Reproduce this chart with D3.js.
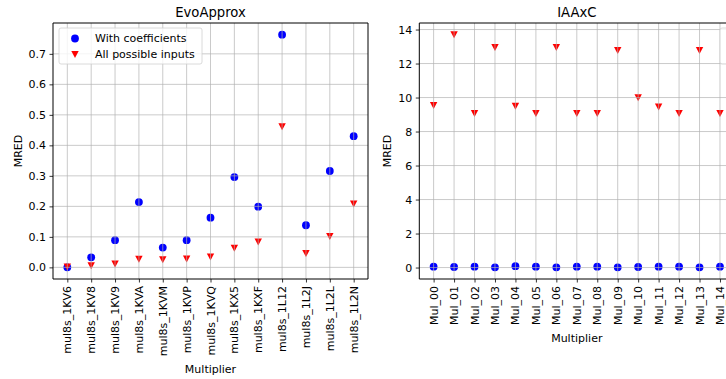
<!DOCTYPE html>
<html>
<head>
<meta charset="utf-8">
<script src="https://cdn.jsdelivr.net/npm/d3@7"></script>
<style>
  html, body { margin: 0; padding: 0; background: #fff; }
  svg { display: block; }
  text { font-family: "DejaVu Sans", sans-serif; fill: #000; }
</style>
</head>
<body>
<svg id="chart" width="726" height="379"></svg>
<script>
// ---------- Data ----------
const evoCategories = ["mul8s_1KV6","mul8s_1KV8","mul8s_1KV9","mul8s_1KVA","mul8s_1KVM","mul8s_1KVP","mul8s_1KVQ","mul8s_1KX5","mul8s_1KXF","mul8s_1L12","mul8s_1L2J","mul8s_1L2L","mul8s_1L2N"];
const evoWithCoeff   = [0.000, 0.033, 0.089, 0.214, 0.065, 0.089, 0.163, 0.296, 0.199, 0.763, 0.138, 0.316, 0.430];
const evoAllInputs   = [0.002, 0.006, 0.012, 0.027, 0.026, 0.028, 0.035, 0.063, 0.084, 0.462, 0.046, 0.102, 0.208];
const evoYTicks      = [0.0, 0.1, 0.2, 0.3, 0.4, 0.5, 0.6, 0.7];

const iaaCategories = ["Mul_00","Mul_01","Mul_02","Mul_03","Mul_04","Mul_05","Mul_06","Mul_07","Mul_08","Mul_09","Mul_10","Mul_11","Mul_12","Mul_13","Mul_14"];
const iaaWithCoeff  = [0.05, 0.03, 0.05, 0.01, 0.08, 0.05, 0.01, 0.05, 0.05, 0.01, 0.03, 0.05, 0.05, 0.01, 0.05];
const iaaAllInputs  = [9.55, 13.70, 9.07, 12.96, 9.50, 9.07, 12.96, 9.07, 9.07, 12.78, 10.00, 9.45, 9.07, 12.78, 9.07];
const iaaYTicks     = [0, 2, 4, 6, 8, 10, 12, 14];

const seriesNames = ["With coefficients", "All possible inputs"];
const seriesColors = ["#0000ff", "#ff0000"];

// ---------- Drawing ----------
const svg = d3.select("#chart");
const triPath = "M-3.7,-3.3L3.7,-3.3L0,3.7Z";
const FS = 11, TFS = 13.2;

function drawPanel(cfg) {
  const { left, right, top, bottom, title, cats, s1, s2, yTicks, yFmt, legendX, legendText } = cfg;
  const n = cats.length;
  const pad = (n - 1) * 0.05;
  const x = d3.scaleLinear().domain([-pad, n - 1 + pad]).range([left, right]);
  const all = s1.concat(s2);
  const mn = d3.min(all), mx = d3.max(all);
  const ypad = (mx - mn) * 0.05;
  const y = d3.scaleLinear().domain([mn - ypad, mx + ypad]).range([bottom, top]);

  const g = svg.append("g");

  // markers (drawn first, grid over them like matplotlib)
  g.append("g").selectAll("circle").data(s1).join("circle")
    .attr("cx", (d, i) => x(i)).attr("cy", d => y(d)).attr("r", 3.9)
    .attr("fill", seriesColors[0]);
  g.append("g").selectAll("path").data(s2).join("path")
    .attr("d", triPath)
    .attr("transform", (d, i) => `translate(${x(i)},${y(d)})`)
    .attr("fill", seriesColors[1]);

  // grid
  const grid = g.append("g").attr("stroke", "#b0b0b0").attr("stroke-width", 0.8).attr("stroke-opacity", 0.85);
  grid.selectAll("line.v").data(cats).join("line").attr("class", "v")
    .attr("x1", (d, i) => x(i)).attr("x2", (d, i) => x(i)).attr("y1", top).attr("y2", bottom);
  grid.selectAll("line.h").data(yTicks).join("line").attr("class", "h")
    .attr("x1", left).attr("x2", right).attr("y1", d => y(d)).attr("y2", d => y(d));

  // axes
  const yAxis = d3.axisLeft(y).tickValues(yTicks).tickFormat(yFmt).tickSize(3.5).tickPadding(3.5);
  const ya = g.append("g").attr("transform", `translate(${left},0)`).call(yAxis);
  ya.select(".domain").remove();
  ya.selectAll("text").attr("font-size", FS).attr("font-family", "DejaVu Sans");
  ya.selectAll("line").attr("stroke", "#000").attr("stroke-width", 0.8);

  const xAxis = d3.axisBottom(x).tickValues(d3.range(n)).tickFormat(i => cats[i]).tickSize(3.5).tickPadding(3.5);
  const xa = g.append("g").attr("transform", `translate(0,${bottom})`).call(xAxis);
  xa.select(".domain").remove();
  xa.selectAll("line").attr("stroke", "#000").attr("stroke-width", 0.8);
  xa.selectAll("text")
    .attr("font-size", FS).attr("font-family", "DejaVu Sans")
    .attr("text-anchor", "end")
    .attr("dy", null)
    .attr("dominant-baseline", "central")
    .attr("transform", "rotate(-90)")
    .attr("x", -7).attr("y", 0);

  // spines
  const sp = g.append("g").attr("stroke", "#000").attr("stroke-width", 1).attr("fill", "none");
  sp.append("line").attr("x1", left).attr("x2", left).attr("y1", top).attr("y2", bottom);
  sp.append("line").attr("x1", left).attr("x2", right).attr("y1", bottom).attr("y2", bottom);
  sp.append("line").attr("x1", left).attr("x2", right).attr("y1", top).attr("y2", top);
  sp.append("line").attr("x1", right).attr("x2", right).attr("y1", top).attr("y2", bottom);

  // title
  g.append("text").attr("x", (left + right) / 2).attr("y", 17)
    .attr("text-anchor", "middle").attr("font-size", TFS).text(title);

  // x label
  const xb = xa.node().getBBox();
  g.append("text").attr("x", (left + right) / 2).attr("y", bottom + xb.height + 16.5)
    .attr("text-anchor", "middle").attr("font-size", FS).text("Multiplier");

  // y label
  const yb = ya.node().getBBox();
  const lx = left + yb.x - 7;
  g.append("text").attr("transform", `translate(${lx},${(top + bottom) / 2}) rotate(-90)`)
    .attr("text-anchor", "middle").attr("font-size", FS).text("MRED");

  // legend
  const lg = g.append("g").attr("transform", `translate(${legendX},${top + 5})`);
  lg.append("rect").attr("x", 0).attr("y", 0).attr("width", 143).attr("height", 36)
    .attr("rx", 2).attr("fill", "#fff").attr("fill-opacity", 0.8)
    .attr("stroke", "#d0d0d0").attr("stroke-width", 0.8);
  if (legendText) {
    seriesNames.forEach((name, i) => {
      const ry = 10.5 + i * 15.8;
      if (i === 0) {
        lg.append("circle").attr("cx", 16).attr("cy", ry).attr("r", 3.9).attr("fill", seriesColors[0]);
      } else {
        lg.append("path").attr("d", triPath).attr("transform", `translate(16,${ry})`).attr("fill", seriesColors[1]);
      }
      lg.append("text").attr("x", 36).attr("y", ry).attr("dominant-baseline", "central")
        .attr("font-size", FS).text(name);
    });
  }
}

drawPanel({
  left: 53, right: 368, top: 23, bottom: 279,
  title: "EvoApprox", cats: evoCategories, s1: evoWithCoeff, s2: evoAllInputs,
  yTicks: evoYTicks, yFmt: d3.format(".1f"), legendX: 59, legendText: true
});
drawPanel({
  left: 419.3, right: 734.3, top: 23, bottom: 279,
  title: "IAAxC", cats: iaaCategories, s1: iaaWithCoeff, s2: iaaAllInputs,
  yTicks: iaaYTicks, yFmt: d3.format("d"), legendX: 720, legendText: false
});
</script>
</body>
</html>
